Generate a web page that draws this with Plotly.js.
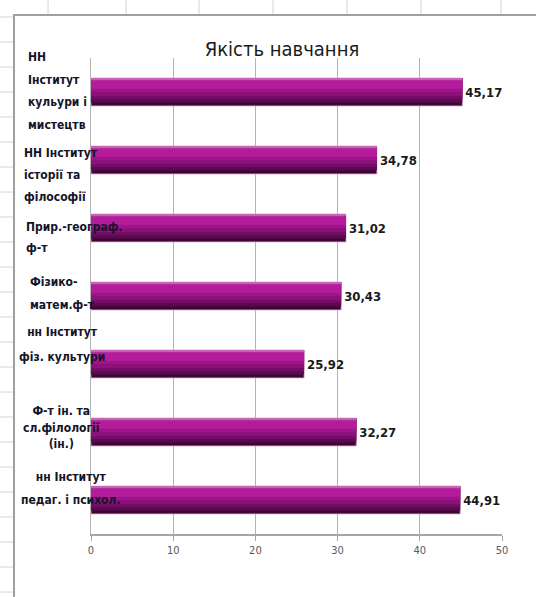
<!DOCTYPE html>
<html>
<head>
<meta charset="utf-8">
<script src="https://cdn.plot.ly/plotly-3.0.1.min.js"></script>
<style>
  html, body { margin: 0; padding: 0; background: #ffffff; }
  #chart { width: 536px; height: 597px; }
</style>
</head>
<body>
<div id="chart"></div>
<script>
// ---- data ----
const categories = [
  "НН Інститут кульури і мистецтв",
  "НН Інститут історії та філософії",
  "Прир.-географ. ф-т",
  "Фізико-матем.ф-т",
  "нн Інститут фіз. культури",
  "Ф-т ін. та сл.філології (ін.)",
  "нн Інститут педаг. і психол."
];
const categoryLabels = [
  ["НН", "Інститут", "кульури і", "мистецтв"],
  ["НН Інститут", "історії та", "філософії"],
  ["Прир.-географ.", "ф-т"],
  ["Фізико-", "матем.ф-т"],
  ["нн Інститут", "фіз. культури"],
  ["Ф-т ін. та", "сл.філології", "(ін.)"],
  ["нн Інститут", "педаг. і психол."]
];
const values = [45.17, 34.78, 31.02, 30.43, 25.92, 32.27, 44.91];
const xTicks = [0, 10, 20, 30, 40, 50];
const chartTitle = "Якість навчання";

// ---- layout geometry (pixels) ----
const W = 536, H = 597;
const M = { l: 91, r: 34, t: 58, b: 63 };
const PW = W - M.l - M.r, PH = H - M.t - M.b;
const xp = px => (px - M.l) / PW;
const yp = py => (H - M.b - py) / PH;

const FONT = "'Liberation Sans Narrow', 'Arial Narrow', 'DejaVu Sans Condensed', sans-serif";

// bar gradient layers: [fromTop, toTop, color]
const BW = 0.41;
const layers = [
  [0.00, 1.00, "#3e0637"],
  [0.00, 0.88, "#5a0a4e"],
  [0.00, 0.76, "#750d66"],
  [0.00, 0.64, "#8d117b"],
  [0.00, 0.50, "#a0148b"],
  [0.08, 0.38, "#b41c9b"],
  [0.00, 0.08, "#c564b2"]
];

const fmt = v => v.toFixed(2).replace(".", ",");

const traces = layers.map((L, i) => ({
  type: "bar",
  orientation: "h",
  y: categories,
  x: values,
  offset: -BW / 2 + L[0] * BW,
  width: (L[1] - L[0]) * BW,
  marker: { color: L[2], line: { width: i === 0 ? 0.8 : 0, color: "#d7a3cc" } },
  text: i === 0 ? values.map(fmt) : undefined,
  textposition: i === 0 ? "outside" : "none",
  textfont: { family: FONT, size: 13, color: "#1a1a1a", weight: "bold" },
  cliponaxis: false,
  hoverinfo: "skip",
  showlegend: false
}));

// label placement styles: [x px, anchor, spacing px, yshift px]
const labelStyle = [
  [26, "left", 22.5, 1],
  [22, "left", 22, -15],
  [24, "left", 21, -9.5],
  [28, "left", 23, 2.5],
  [62, "center", 25, 19.5],
  [61, "center", 16.5, 5],
  [71, "center", 23, 11.5]
];

const annotations = categories.map((c, i) => {
  const s = labelStyle[i];
  return {
    xref: "paper", yref: "y",
    x: xp(s[0]), y: c,
    xanchor: s[1], yanchor: "middle",
    align: s[1],
    yshift: s[3],
    showarrow: false,
    text: categoryLabels[i].map(t => '<span style="font-size:12px">' + t + '</span>').join("<br>"),
    font: { family: FONT, size: s[2] / 1.3, color: "#141428", weight: "bold" }
  };
});

// spreadsheet background decoration
const shapes = [];
const sheetX = [48, 126, 199, 273, 347, 421, 501];
sheetX.forEach(x => shapes.push({
  type: "line", xref: "paper", yref: "paper", layer: "below",
  x0: xp(x), x1: xp(x), y0: yp(0), y1: yp(15),
  line: { color: "#d4d4d4", width: 1 }
}));
for (let y = 17; y < H; y += 25) {
  shapes.push({
    type: "line", xref: "paper", yref: "paper", layer: "below",
    x0: xp(0), x1: xp(14), y0: yp(y), y1: yp(y),
    line: { color: "#d4d4d4", width: 1 }
  });
}
shapes.push({
  type: "line", xref: "paper", yref: "paper", layer: "below",
  x0: xp(14), x1: xp(14), y0: yp(15), y1: yp(H + 2),
  line: { color: "#a0a0a0", width: 2 }
});
shapes.push({
  type: "line", xref: "paper", yref: "paper", layer: "below",
  x0: xp(13), x1: xp(W + 2), y0: yp(15), y1: yp(15),
  line: { color: "#a0a0a0", width: 2 }
});

const layout = {
  width: W, height: H,
  margin: M,
  paper_bgcolor: "#ffffff",
  plot_bgcolor: "rgba(0,0,0,0)",
  barmode: "overlay",
  title: {
    text: chartTitle,
    font: { family: FONT, size: 20, color: "#1a1a1a" },
    xref: "container", x: 282 / W, xanchor: "center",
    yref: "container", y: 1 - 49 / H, yanchor: "middle"
  },
  xaxis: {
    range: [0, 50],
    tickvals: xTicks,
    ticktext: xTicks.map(String),
    showgrid: true, gridcolor: "#b4b4b4", gridwidth: 1,
    zeroline: false,
    showline: true, linecolor: "#a6a6a6", linewidth: 1.5,
    ticks: "outside", ticklen: 5, tickcolor: "#a6a6a6",
    tickfont: { family: FONT, size: 11, color: "#595959" },
    fixedrange: true
  },
  yaxis: {
    type: "category",
    categoryorder: "array",
    categoryarray: categories,
    autorange: false,
    range: [categories.length - 0.5, -0.5],
    showticklabels: false,
    showgrid: false,
    zeroline: false,
    showline: true, linecolor: "#b4b4b4", linewidth: 1,
    ticks: "",
    fixedrange: true
  },
  annotations: annotations,
  shapes: shapes
};

Plotly.newPlot("chart", traces, layout, { displayModeBar: false, staticPlot: true });
</script>
</body>
</html>
